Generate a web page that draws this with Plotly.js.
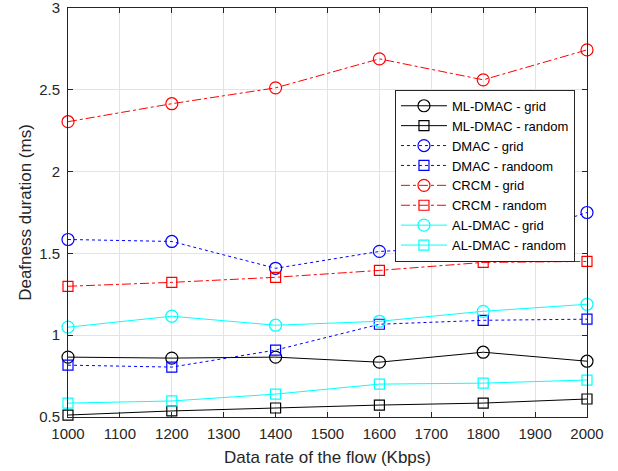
<!DOCTYPE html>
<html><head><meta charset="utf-8">
<script src="https://cdn.plot.ly/plotly-3.0.1.min.js"></script>
<style>html,body{margin:0;padding:0;background:#fff;}#chart{width:618px;height:471px;}</style>
</head><body><div id="chart"></div>
<script>
const dataRates = [1000, 1200, 1400, 1600, 1800, 2000];
const seriesNames = ["ML-DMAC - grid","ML-DMAC - random","DMAC - grid","DMAC - randoom","CRCM - grid","CRCM - random","AL-DMAC - grid","AL-DMAC - random"];
const mlGrid = [0.866, 0.860, 0.866, 0.835, 0.896, 0.841];
const mlRandom = [0.512, 0.537, 0.555, 0.573, 0.585, 0.610];
const dmacGrid = [1.585, 1.573, 1.409, 1.512, 1.543, 1.750];
const dmacRandom = [0.817, 0.805, 0.909, 1.067, 1.091, 1.098];
const crcmGrid = [2.305, 2.415, 2.512, 2.689, 2.561, 2.744];
const crcmRandom = [1.299, 1.323, 1.354, 1.396, 1.445, 1.451];
const alGrid = [1.049, 1.116, 1.061, 1.085, 1.146, 1.189];
const alRandom = [0.585, 0.598, 0.640, 0.701, 0.707, 0.726];
const xTicks = [1000,1100,1200,1300,1400,1500,1600,1700,1800,1900,2000];
const yTicks = [0.5,1,1.5,2,2.5,3];
const yTickText = ["0.5","1","1.5","2","2.5","3"];

const values = [mlGrid, mlRandom, dmacGrid, dmacRandom, crcmGrid, crcmRandom, alGrid, alRandom];
const colors = ["#000000","#000000","#0000ff","#0000ff","#ff0000","#ff0000","#00ffff","#00ffff"];
const dashes = ["solid","solid","dot","dot","dashdot","dashdot","solid","solid"];
const symbols = ["circle-open","square-open","circle-open","square-open","circle-open","square-open","circle-open","square-open"];
const sizes = [12,10,12,10,12,10,12,10];

const traces = values.map((v,i)=>({
  x: dataRates, y: v, name: seriesNames[i], type:'scatter', mode:'lines+markers',
  line:{color:colors[i], width:1, dash:dashes[i]},
  marker:{symbol:symbols[i], size:sizes[i], color:colors[i], line:{width:1.2,color:colors[i]}},
  cliponaxis:false
}));

const font = 'Liberation Sans, Arial, Helvetica, sans-serif';
const layout = {
  width:618, height:471,
  margin:{l:68, r:31, t:8, b:54},
  paper_bgcolor:'#fff', plot_bgcolor:'#fff',
  font:{family:font, size:15, color:'#262626'},
  showlegend:true,
  legend:{x:0.630, y:0.800, xanchor:'left', yanchor:'top', bgcolor:'#fff', bordercolor:'#262626', borderwidth:1,
    font:{family:font, size:13, color:'#000'}, tracegroupgap:0, itemwidth:46},
  xaxis:{range:[1000,2000], tickvals:xTicks, ticktext:xTicks.map(String), showgrid:true, gridcolor:'#e3e3e3', gridwidth:1,
    zeroline:false, showline:true, linecolor:'#262626', linewidth:1, mirror:'ticks', ticks:'inside', ticklen:5, tickcolor:'#262626',
    tickfont:{size:15, color:'#262626'}, ticklabeloverflow:'allow', ticklabelstandoff:3, automargin:false,
    title:{text:'Data rate of the flow (Kbps)', font:{size:17, color:'#262626'}, standoff:10}},
  yaxis:{range:[0.5,3], tickvals:yTicks, ticktext:yTickText, showgrid:true, gridcolor:'#e3e3e3', gridwidth:1,
    zeroline:false, showline:true, linecolor:'#262626', linewidth:1, mirror:'ticks', ticks:'inside', ticklen:5, tickcolor:'#262626',
    tickfont:{size:15, color:'#262626'}, ticklabeloverflow:'allow', ticklabelstandoff:4, automargin:false,
    title:{text:'Deafness duration (ms)', font:{size:17, color:'#262626'}, standoff:3}}
};
Plotly.newPlot('chart', traces, layout, {displayModeBar:false, staticPlot:true});
</script></body></html>
